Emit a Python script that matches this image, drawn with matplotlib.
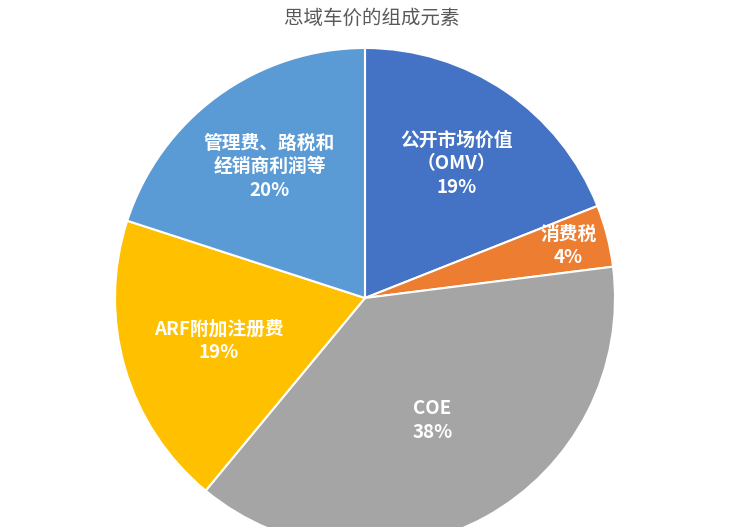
import numpy as np
import matplotlib.pyplot as plt

plt.rcParams["font.family"] = "Noto Sans CJK SC"

labels = ["公开市场价值\n（OMV）", "消费税", "COE", "ARF附加注册费", "管理费、路税和\n经销商利润等"]
values = [19, 4, 38, 19, 20]
colors = ["#4472C4", "#ED7D31", "#A5A5A5", "#FFC000", "#5B9BD5"]
label_r = [0.65, 0.84, 0.56, 0.61, 0.65]

fig = plt.figure(figsize=(7.44, 5.27), dpi=100)
ax = fig.add_axes([0, 0, 1, 1])
cx, cy, r = 365, 527 - 298, 250
wedges, _ = ax.pie(values, colors=colors, startangle=90, counterclock=False,
                   center=(cx, cy), radius=r,
                   wedgeprops=dict(edgecolor="white", linewidth=1.5))
ax.set_xlim(0, 744)
ax.set_ylim(0, 527)
ax.set_aspect("equal")
ax.axis("off")

total = sum(values)
for w, lab, v, lr in zip(wedges, labels, values, label_r):
    ang = np.deg2rad((w.theta1 + w.theta2) / 2)
    x = cx + lr * r * np.cos(ang)
    y = cy + lr * r * np.sin(ang)
    ax.text(x, y, f"{lab}\n{round(100 * v / total)}%", ha="center", va="center",
            color="white", fontsize=13.5, fontweight="bold", linespacing=1.3)

fig.text(0.5, 0.965, "思域车价的组成元素", ha="center", va="center",
         fontsize=14, color="#595959")
fig.savefig("out.png", dpi=100)
